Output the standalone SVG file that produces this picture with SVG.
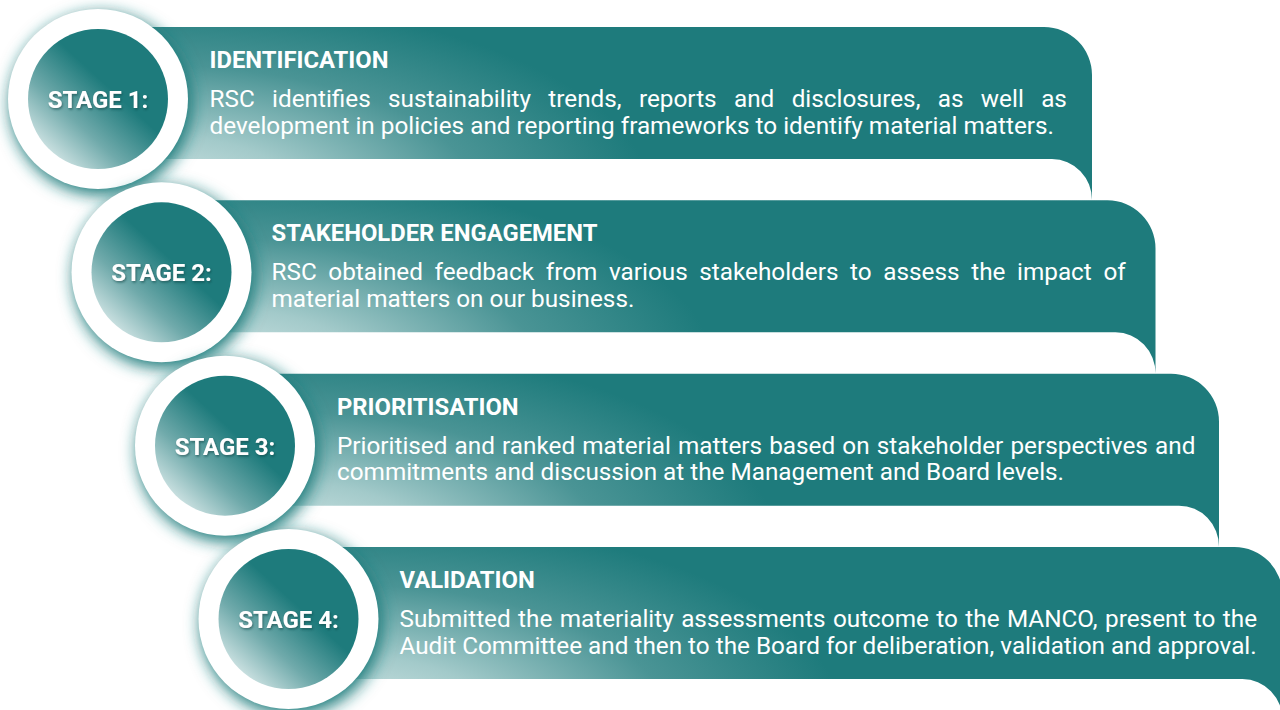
<svg xmlns="http://www.w3.org/2000/svg" xmlns:xlink="http://www.w3.org/1999/xlink" width="1280" height="710" viewBox="0 0 1280 710">
<style>
.title{font-family:Roboto,"Liberation Sans",sans-serif;font-weight:700;font-size:23.8px;fill:#ffffff}
.body{font-family:Roboto,"Liberation Sans",sans-serif;font-weight:400;font-size:24.3px;fill:#ffffff}
.stage{font-family:Roboto,"Liberation Sans",sans-serif;font-weight:700;font-size:24px;fill:#ffffff;text-anchor:middle}
</style>
<defs>
<radialGradient id="bandGrad" gradientUnits="userSpaceOnUse" cx="0" cy="0" r="1" gradientTransform="translate(150,195) scale(500,200)">
<stop offset="0" stop-color="#d4e7e7"/>
<stop offset="0.3" stop-color="#a3caca"/>
<stop offset="0.65" stop-color="#4a9495"/>
<stop offset="1" stop-color="#1e7b7c"/>
</radialGradient>
<linearGradient id="circleGrad" x1="0.12" y1="0.92" x2="0.58" y2="0.42">
<stop offset="0" stop-color="#dcebeb"/>
<stop offset="0.5" stop-color="#70aaab"/>
<stop offset="1" stop-color="#1e7b7c"/>
</linearGradient>
<filter id="glow" x="-30%" y="-30%" width="160%" height="160%">
<feGaussianBlur stdDeviation="8"/>
</filter>
<filter id="tshadow" x="-10%" y="-30%" width="120%" height="160%">
<feDropShadow dx="1" dy="1.5" stdDeviation="1.2" flood-color="#0b3f40" flood-opacity="0.6"/>
</filter>
<path id="band" d="M98,27 H1044 A48,48 0 0 1 1092,75 V200.4 A40,41 0 0 0 1052,159 H98 Z"/>
<g id="badge">
<circle cx="101" cy="104" r="91" fill="#1e7b7c" filter="url(#glow)"/>
<circle cx="98" cy="99" r="90" fill="#ffffff"/>
<circle cx="98" cy="99" r="70" fill="url(#circleGrad)"/>
</g>
</defs>

<g id="connectors"></g>

<g id="stage1">
<use xlink:href="#band" fill="url(#bandGrad)"/>
<use xlink:href="#badge"/>
<text class="stage" x="98" y="108" filter="url(#tshadow)">STAGE 1:</text>
<text class="title" x="209.5" y="68">IDENTIFICATION</text>
<text class="body" x="209.5" y="107" word-spacing="11.3">RSC identifies sustainability trends, reports and disclosures, as well as</text>
<text class="body" x="209.5" y="133.5">development in policies and reporting frameworks to identify material matters.</text>
</g>

<g id="stage2">
<g transform="translate(63.5,173.33)">
<use xlink:href="#band" fill="url(#bandGrad)"/>
<use xlink:href="#badge"/>
</g>
<text class="stage" x="161.5" y="281.3" filter="url(#tshadow)">STAGE 2:</text>
<text class="title" x="271.5" y="241.3">STAKEHOLDER ENGAGEMENT</text>
<text class="body" x="271.5" y="280.3" word-spacing="5.6">RSC obtained feedback from various stakeholders to assess the impact of</text>
<text class="body" x="271.5" y="306.8">material matters on our business.</text>
</g>

<g id="stage3">
<g transform="translate(127,346.67)">
<use xlink:href="#band" fill="url(#bandGrad)"/>
<use xlink:href="#badge"/>
</g>
<text class="stage" x="225" y="454.7" filter="url(#tshadow)">STAGE 3:</text>
<text class="title" x="337" y="414.7">PRIORITISATION</text>
<text class="body" x="337" y="453.7" word-spacing="1.1">Prioritised and ranked material matters based on stakeholder perspectives and</text>
<text class="body" x="337" y="480.2">commitments and discussion at the Management and Board levels.</text>
</g>

<g id="stage4">
<g transform="translate(190.5,520)">
<use xlink:href="#band" fill="url(#bandGrad)"/>
<use xlink:href="#badge"/>
</g>
<text class="stage" x="288.5" y="628" filter="url(#tshadow)">STAGE 4:</text>
<text class="title" x="399.5" y="588">VALIDATION</text>
<text class="body" x="399.5" y="627" word-spacing="1.4">Submitted the materiality assessments outcome to the MANCO, present to the</text>
<text class="body" x="399.5" y="653.5">Audit Committee and then to the Board for deliberation, validation and approval.</text>
</g>
</svg>
